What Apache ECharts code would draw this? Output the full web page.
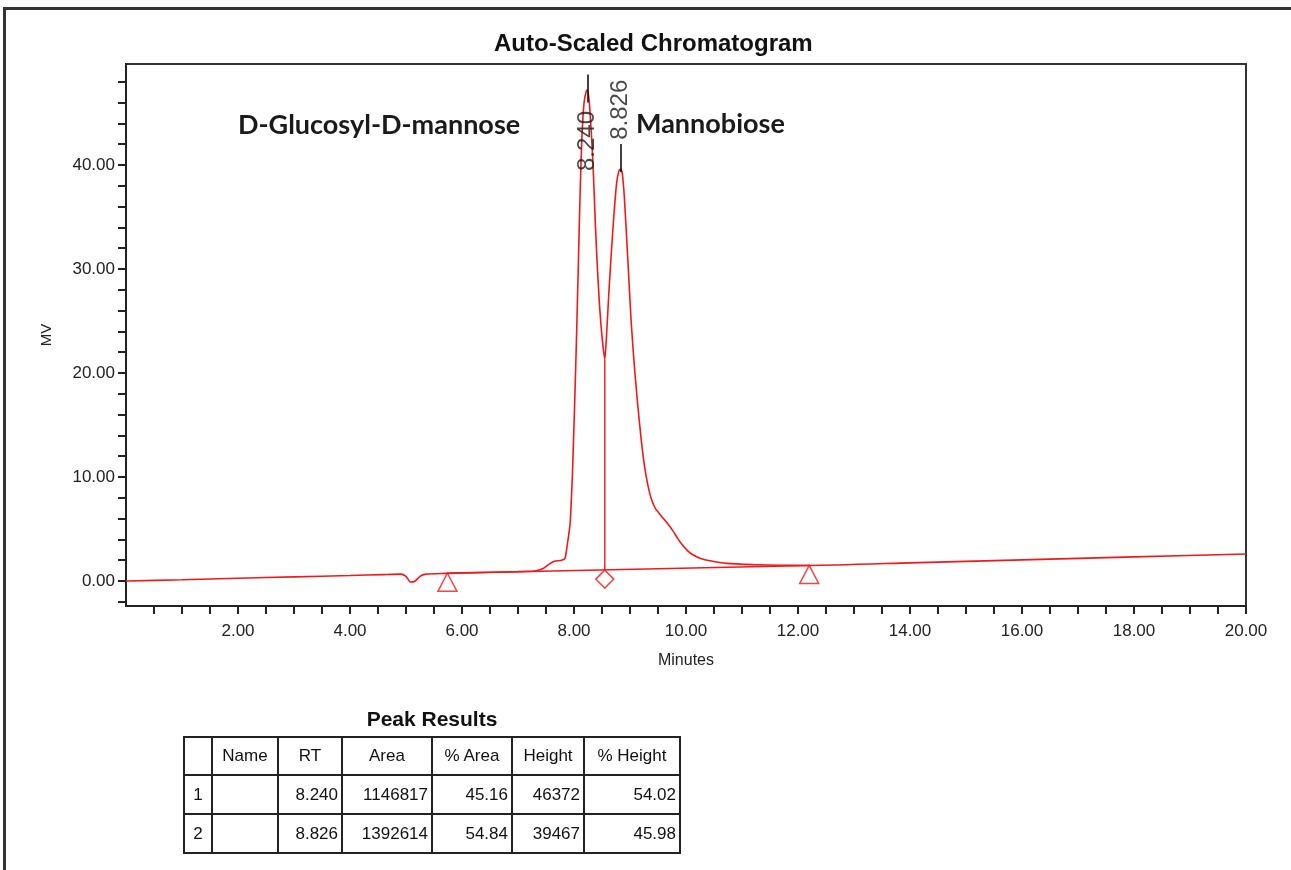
<!DOCTYPE html>
<html lang="en">
<head>
    <meta charset="UTF-8">
    <title>Auto-Scaled Chromatogram</title>
    <script type="text/javascript" src="https://cdn.jsdelivr.net/npm/echarts@6.0.0/dist/echarts.min.js"></script>
    <style>
        body { margin: 0; background: #fff; font-family: "Liberation Sans", Arial, sans-serif; }
        #frame { position: absolute; left: 3px; top: 7px; width: 1300px; height: 900px;
                 border-left: 3px solid #333; border-top: 3px solid #333; }
        #main { position: absolute; left: 0; top: 0; width: 1291px; height: 870px; }
        #peakTitle { position: absolute; left: 183px; width: 498px; top: 707px; text-align: center;
                     font-weight: bold; font-size: 21px; color: #111; }
        #peaks { position: absolute; left: 183px; top: 736px; width: 497px; table-layout: fixed;
                 border-collapse: collapse; font-size: 17px; color: #111; }
        #peaks td { border: 2px solid #222; padding: 0 3px; height: 37px; overflow: hidden; white-space: nowrap; }
    </style>
</head>
<body>
<div id="frame"></div>
<div id="main"></div>
<div id="peakTitle">Peak Results</div>
<table id="peaks"></table>

<script type="text/javascript">
    // chromatogram trace (minutes, mV)
    var traceTime = [0, 1.0, 2.0, 3.0, 4.0, 4.6, 4.9, 5.0, 5.08, 5.15, 5.25, 5.35, 5.7, 6.0, 6.5, 7.0, 7.3,
        7.45, 7.55, 7.65, 7.78, 7.84, 7.88, 7.93, 7.97, 8.00, 8.03, 8.05, 8.08, 8.11, 8.14, 8.18, 8.22, 8.24,
        8.27, 8.31, 8.34, 8.38, 8.41, 8.45, 8.50, 8.55, 8.58, 8.62, 8.66, 8.71, 8.76, 8.80, 8.83, 8.86, 8.90,
        8.96, 9.02, 9.08, 9.14, 9.20, 9.26, 9.32, 9.38, 9.45, 9.55, 9.66, 9.77, 9.85, 9.93, 10.03, 10.13, 10.25,
        10.43, 10.73, 11.2, 11.7, 12.2, 14.0, 16.0, 18.0, 20.0];
    var traceMV = [0.0, 0.13, 0.27, 0.40, 0.53, 0.62, 0.66, 0.45, -0.1, -0.05, 0.45, 0.66, 0.74, 0.78, 0.84, 0.90, 0.97,
        1.2, 1.6, 1.9, 2.0, 2.2, 3.5, 5.5, 10.0, 15.0, 20.5, 24.5, 31.0, 37.5, 42.5, 46.0, 47.1, 47.2,
        46.2, 43.0, 40.0, 34.5, 30.9, 27.0, 23.5, 21.3, 23.5, 27.5, 31.0, 35.0, 38.2, 39.4, 39.6, 39.3, 36.8,
        31.0, 25.0, 20.5, 16.8, 13.6, 11.0, 9.2, 7.9, 7.0, 6.3, 5.6, 4.8, 4.1, 3.5, 2.9, 2.5, 2.2,
        1.95, 1.7, 1.58, 1.52, 1.5, 1.75, 2.03, 2.32, 2.6];

    // integration baseline, start/end markers and drop line
    var baseTime = [5.74, 12.2];
    var baseMV = [0.75, 1.5];
    var dropTime = 8.55;
    var dropMV = [1.05, 21.3];

    // peak labels
    var peakRT = [8.240, 8.826];
    var peakTickTop = [48.7, 42.0];
    var peakTickBottom = [46.0, 39.3];
    var peakLabelMV = [42.3, 45.3];

    // axes
    var xTicks = [];
    var xLabels = [2, 4, 6, 8, 10, 12, 14, 16, 18, 20];
    var yTicks = [-2, 0, 2, 4, 6, 8, 10, 12, 14, 16, 18, 20, 22, 24, 26, 28, 30, 32, 34, 36, 38, 40, 42, 44, 46, 48];
    var yLabels = [0, 10, 20, 30, 40];
    for (var k = 1; k <= 40; k++) { xTicks.push(k * 0.5); }

    // peak table
    var tblHead = ['', 'Name', 'RT', 'Area', '% Area', 'Height', '% Height'];
    var tblNo = ['1', '2'];
    var tblName = ['', ''];
    var tblRT = ['8.240', '8.826'];
    var tblArea = ['1146817', '1392614'];
    var tblPctArea = ['45.16', '54.84'];
    var tblHeight = ['46372', '39467'];
    var tblPctHeight = ['54.02', '45.98'];

    var red = '#f21818';
    var ink = '#222';
    var fam = 'Liberation Sans';

    var trace = [];
    for (var i = 0; i < traceTime.length; i++) {
        trace.push([traceTime[i], traceMV[i]]);
    }

    var chart = echarts.init(document.getElementById('main'));
    var option = {
        animation: false,
        title: {
            text: 'Auto-Scaled Chromatogram',
            left: 489,
            top: 27,
            textStyle: { fontFamily: fam, fontSize: 24, fontWeight: 'bold', color: '#111' }
        },
        grid: {
            left: 126, right: 45, top: 64, bottom: 264,
            show: true, borderColor: '#333', borderWidth: 2
        },
        xAxis: {
            type: 'value', min: 0, max: 20,
            name: 'Minutes', nameLocation: 'middle', nameGap: 47,
            nameTextStyle: { fontFamily: fam, fontSize: 16, color: ink },
            axisLine: { onZero: false, lineStyle: { color: ink, width: 2 } },
            axisTick: { show: true, customValues: xTicks, length: 8, lineStyle: { color: ink, width: 2 } },
            axisLabel: {
                customValues: xLabels, margin: 17, fontFamily: fam, fontSize: 17, color: ink,
                formatter: function (v) { return v.toFixed(2); }
            },
            splitLine: { show: false }
        },
        yAxis: {
            type: 'value', min: -2.4, max: 49.7,
            name: 'MV', nameLocation: 'middle', nameGap: 72, nameRotate: 90,
            nameTextStyle: { fontFamily: fam, fontSize: 15, color: ink },
            axisLine: { show: true, lineStyle: { color: ink, width: 2 } },
            axisTick: { show: true, customValues: yTicks, length: 8, lineStyle: { color: ink, width: 2 } },
            axisLabel: {
                customValues: yLabels, margin: 11, fontFamily: fam, fontSize: 17, color: ink,
                formatter: function (v) { return v.toFixed(2); }
            },
            splitLine: { show: false }
        },
        graphic: [
            { type: 'text', left: 238, top: 112,
              style: { text: 'D-Glucosyl-D-mannose', fontFamily: 'Lato', fontWeight: 'bold', fontSize: 27, fill: '#1a1a1a' } },
            { type: 'text', left: 636, top: 111,
              style: { text: 'Mannobiose', fontFamily: 'Lato', fontWeight: 'bold', fontSize: 27, fill: '#1a1a1a' } }
        ],
        series: [
            {
                type: 'line', data: trace, showSymbol: false, smooth: 0.2,
                lineStyle: { color: red, width: 1.6 }, z: 3
            },
            {
                type: 'line', data: [[baseTime[0], baseMV[0]], [baseTime[1], baseMV[1]]], showSymbol: false,
                lineStyle: { color: red, width: 1.4 }, z: 2
            },
            {
                type: 'line', data: [[dropTime, dropMV[0]], [dropTime, dropMV[1]]], showSymbol: false,
                lineStyle: { color: red, width: 1.4 }, z: 2
            },
            {
                type: 'scatter', data: [[baseTime[0], baseMV[0]], [baseTime[1], baseMV[1]]],
                symbol: 'triangle', symbolSize: [19, 18], symbolOffset: [0, 9],
                itemStyle: { color: '#fff', borderColor: red, borderWidth: 1.5 }, z: 4
            },
            {
                type: 'scatter', data: [[dropTime, dropMV[0]]],
                symbol: 'diamond', symbolSize: [18, 18], symbolOffset: [0, 9],
                itemStyle: { color: '#fff', borderColor: red, borderWidth: 1.5 }, z: 4
            },
            {
                type: 'scatter',
                data: [[peakRT[0], peakLabelMV[0]], [peakRT[1], peakLabelMV[1]]],
                symbolSize: 1, itemStyle: { color: 'transparent' }, z: 6,
                label: {
                    show: true, position: 'inside', rotate: 90,
                    fontFamily: fam, fontSize: 24, color: '#1a1a1a',
                    formatter: function (p) { return p.value[0].toFixed(3); }
                },
                markLine: {
                    silent: true, symbol: 'none', label: { show: false },
                    lineStyle: { color: '#111', width: 1.6, type: 'solid' },
                    data: [
                        [{ coord: [peakRT[0], peakTickTop[0]] }, { coord: [peakRT[0], peakTickBottom[0]] }],
                        [{ coord: [peakRT[1], peakTickTop[1]] }, { coord: [peakRT[1], peakTickBottom[1]] }]
                    ]
                }
            }
        ]
    };
    chart.setOption(option);

    // peak results table
    var cols = [tblNo, tblName, tblRT, tblArea, tblPctArea, tblHeight, tblPctHeight];
    var widths = [28, 66, 64, 90, 80, 72, 96];
    var html = '<colgroup>';
    for (var c = 0; c < widths.length; c++) {
        html += '<col style="width:' + widths[c] + 'px">';
    }
    html += '</colgroup><tr>';
    for (var c = 0; c < tblHead.length; c++) {
        html += '<td style="text-align:center;height:36px">' + tblHead[c] + '</td>';
    }
    html += '</tr>';
    for (var r = 0; r < tblNo.length; r++) {
        html += '<tr>';
        for (var c = 0; c < cols.length; c++) {
            var align = c === 0 ? 'center' : 'right';
            html += '<td style="text-align:' + align + '">' + cols[c][r] + '</td>';
        }
        html += '</tr>';
    }
    document.getElementById('peaks').innerHTML = html;
</script>
</body>
</html>
